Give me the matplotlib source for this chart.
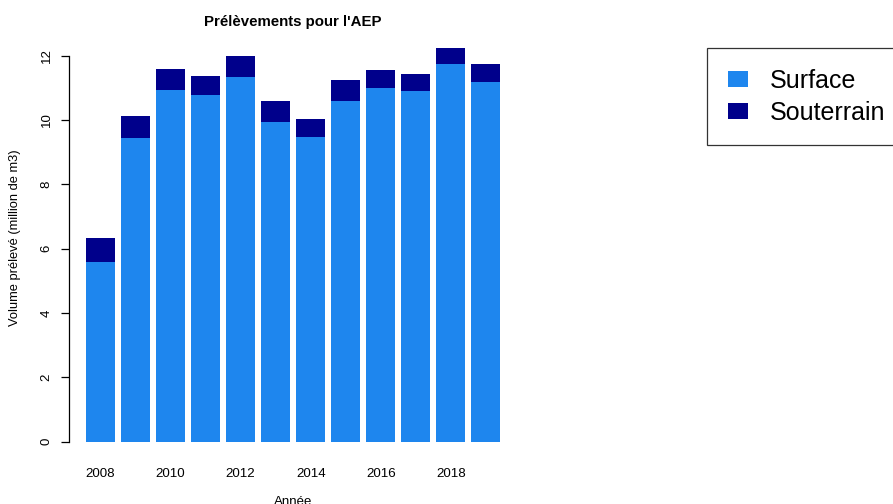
import numpy as np
import matplotlib.pyplot as plt

plt.rcParams['font.family'] = ['Liberation Sans', 'DejaVu Sans']

annees = [2008, 2009, 2010, 2011, 2012, 2013, 2014, 2015, 2016, 2017, 2018, 2019]
surface = [5.60, 9.44, 10.93, 10.77, 11.34, 9.94, 9.48, 10.60, 11.00, 10.90, 11.73, 11.17]
souterrain = [0.72, 0.69, 0.67, 0.59, 0.66, 0.64, 0.56, 0.63, 0.56, 0.54, 0.50, 0.56]

col_surf = '#1E86EE'
col_sout = '#00008B'

W, H = 893, 504
fig = plt.figure(figsize=(W / 100, H / 100), dpi=100)

# plot region in pixels (barplot style: width 1, space 0.2)
x0_px, x1_px = 69.4, 517.0
y0_px = 441.7
px_per_unit = 32.17
ytop = 12.5
ax = fig.add_axes([x0_px / W, (H - y0_px) / H,
                   (x1_px - x0_px) / W, ytop * px_per_unit / H])

pos = 0.7 + 1.2 * np.arange(len(annees))
ax.bar(pos, surface, width=1.0, color=col_surf, edgecolor='none',
       label='Surface')
ax.bar(pos, souterrain, width=1.0, bottom=surface, color=col_sout,
       edgecolor='none', label='Souterrain')

ax.set_xlim(-0.368, 14.968)
ax.set_ylim(0, ytop)

for s in ['top', 'right', 'bottom']:
    ax.spines[s].set_visible(False)
ax.spines['left'].set_bounds(0, 12)
ax.spines['left'].set_linewidth(0.9)

ax.set_yticks([0, 2, 4, 6, 8, 10, 12])
ax.tick_params(axis='y', length=6, width=0.9, pad=6, labelsize=9.5)
for lab in ax.get_yticklabels():
    lab.set_rotation(90)
    lab.set_va('center')

ax.set_xticks(pos[::2])
ax.set_xticklabels([str(a) for a in annees[::2]])
ax.tick_params(axis='x', length=0, pad=19, labelsize=9.6)

fig.text(293 / W, 1 - 502 / H, 'Année', ha='center', va='center', fontsize=9.5)
fig.text(15 / W, 1 - 238 / H, 'Volume prélevé (million de m3)', rotation=90,
         ha='center', va='center', fontsize=9.3)
fig.text(293 / W, 1 - 22 / H, "Prélèvements pour l'AEP", ha='center',
         va='center', fontsize=10.8, fontweight='bold')

leg = fig.legend(loc='upper left', bbox_to_anchor=(707 / W, 1 - 48 / H),
                 borderaxespad=0, fontsize=18, frameon=True, fancybox=False,
                 edgecolor='black', handlelength=0.8, handleheight=0.6,
                 handletextpad=0.88, labelspacing=0.32, borderpad=0.82)
leg.get_frame().set_linewidth(0.9)

plt.savefig('out.png', dpi=100)
